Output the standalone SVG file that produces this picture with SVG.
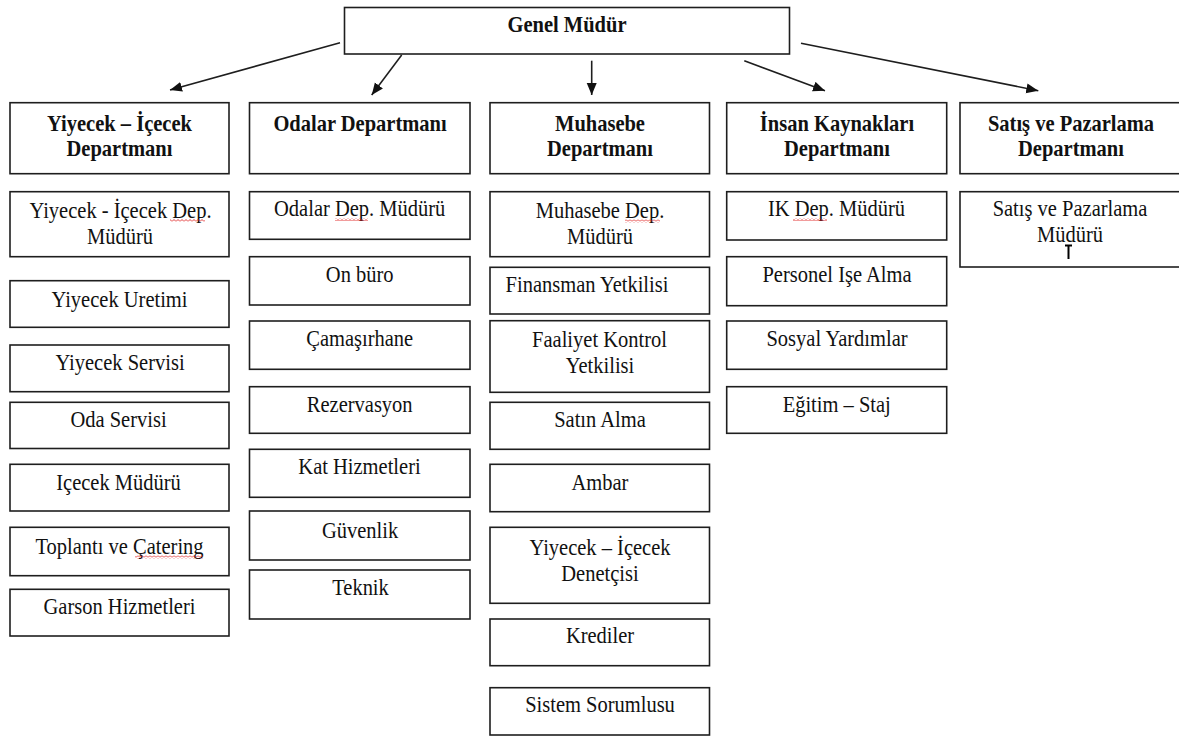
<svg xmlns="http://www.w3.org/2000/svg" width="1179" height="736" viewBox="0 0 1179 736">
  <style>
    .box { fill: #ffffff; stroke: #1e1e1e; stroke-width: 1.6; }
    .t { font-family: "Liberation Serif", "Times New Roman", serif; font-size: 20.5px; fill: #111111; text-anchor: middle; }
    .b { font-weight: bold; }
    .link { fill: none; stroke: #1e1e1e; stroke-width: 1.6; marker-end: url(#arrow); }
    .spell { fill: url(#squiggle); }
  </style>
  <defs>
    <marker id="arrow" markerUnits="userSpaceOnUse" markerWidth="13" markerHeight="11" refX="12" refY="5" orient="auto">
      <path d="M0,0 L12,5 L0,10 Z" fill="#111111"/>
    </marker>
    <pattern id="squiggle" patternUnits="userSpaceOnUse" width="4" height="3">
      <path d="M0,2.5 L2,0.5 L4,2.5" fill="none" stroke="#e02020" stroke-width="0.9"/>
    </pattern>
  </defs>
  <rect width="1179" height="736" fill="#ffffff"/>

  <!-- labels are set in a slightly tall Times face: scale(1,1.16) about each baseline -->

  <!-- top manager -->
  <g id="genel-mudur">
    <rect class="box" x="344.5" y="7.5" width="445" height="46.5"/>
    <text class="t b" transform="translate(567,32) scale(1,1.16)">Genel Müdür</text>
  </g>

  <!-- connectors from the general manager to the departments -->
  <g id="connectors">
    <line class="link" x1="340" y1="42.7" x2="170" y2="90"/>
    <line class="link" x1="401.7" y1="55" x2="371.7" y2="95"/>
    <line class="link" x1="591.7" y1="60.7" x2="591.7" y2="95"/>
    <line class="link" x1="744.3" y1="60.7" x2="825" y2="90.7"/>
    <line class="link" x1="801" y1="43.3" x2="1038.3" y2="90.7"/>
  </g>

  <!-- department headers -->
  <g id="dept-yiyecek">
    <rect class="box" x="10" y="102.7" width="219" height="71"/>
    <text class="t b" transform="translate(119.5,130.5) scale(1,1.16)">Yiyecek – İçecek</text>
    <text class="t b" transform="translate(119.5,155.5) scale(1,1.16)">Departmanı</text>
  </g>
  <g id="dept-odalar">
    <rect class="box" x="249.5" y="102.7" width="220.5" height="71"/>
    <text class="t b" transform="translate(360,130.5) scale(1,1.16)">Odalar Departmanı</text>
  </g>
  <g id="dept-muhasebe">
    <rect class="box" x="490" y="102.7" width="219.5" height="71"/>
    <text class="t b" transform="translate(600,130.5) scale(1,1.16)">Muhasebe</text>
    <text class="t b" transform="translate(600,155.5) scale(1,1.16)">Departmanı</text>
  </g>
  <g id="dept-ik">
    <rect class="box" x="726.7" y="102.7" width="220" height="71"/>
    <text class="t b" transform="translate(837,130.5) scale(1,1.16)">İnsan Kaynakları</text>
    <text class="t b" transform="translate(837,155.5) scale(1,1.16)">Departmanı</text>
  </g>
  <g id="dept-satis">
    <rect class="box" x="960" y="102.7" width="224" height="71"/>
    <text class="t b" transform="translate(1071,130.5) scale(1,1.16)">Satış ve Pazarlama</text>
    <text class="t b" transform="translate(1071,155.5) scale(1,1.16)">Departmanı</text>
  </g>

  <!-- Yiyecek – İçecek column -->
  <g id="yi-mudur">
    <rect class="box" x="10" y="191.7" width="219" height="65"/>
    <text class="t" transform="translate(120.5,217.5) scale(1,1.16)">Yiyecek - İçecek Dep.</text>
    <text class="t" transform="translate(120,243.5) scale(1,1.16)">Müdürü</text>
    <rect class="spell" x="170" y="219" width="35" height="3"/>
  </g>
  <g id="yi-uretim">
    <rect class="box" x="10" y="280.7" width="219" height="46.6"/>
    <text class="t" transform="translate(119.5,306.5) scale(1,1.16)">Yiyecek Uretimi</text>
  </g>
  <g id="yi-servis">
    <rect class="box" x="10" y="345" width="219" height="46.7"/>
    <text class="t" transform="translate(120,370) scale(1,1.16)">Yiyecek Servisi</text>
  </g>
  <g id="yi-oda">
    <rect class="box" x="10" y="402.3" width="219" height="46.2"/>
    <text class="t" transform="translate(118.5,427) scale(1,1.16)">Oda Servisi</text>
  </g>
  <g id="yi-icecek">
    <rect class="box" x="10" y="464.3" width="219" height="46.7"/>
    <text class="t" transform="translate(118.5,490) scale(1,1.16)">Içecek Müdürü</text>
  </g>
  <g id="yi-toplanti">
    <rect class="box" x="10" y="527.3" width="219" height="48.4"/>
    <text class="t" transform="translate(119.5,553.5) scale(1,1.16)">Toplantı ve Çatering</text>
    <rect class="spell" x="135" y="555.5" width="68" height="3"/>
  </g>
  <g id="yi-garson">
    <rect class="box" x="10" y="589.3" width="219" height="46.7"/>
    <text class="t" transform="translate(119.5,614) scale(1,1.16)">Garson Hizmetleri</text>
  </g>

  <!-- Odalar column -->
  <g id="od-mudur">
    <rect class="box" x="249.5" y="191.7" width="220.5" height="47.6"/>
    <text class="t" transform="translate(359.7,216) scale(1,1.16)">Odalar Dep. Müdürü</text>
    <rect class="spell" x="335" y="218" width="33" height="3"/>
  </g>
  <g id="od-onburo">
    <rect class="box" x="249.5" y="256.7" width="220.5" height="48.3"/>
    <text class="t" transform="translate(359.7,281.5) scale(1,1.16)">On büro</text>
  </g>
  <g id="od-camasir">
    <rect class="box" x="249.5" y="321" width="220.5" height="48.3"/>
    <text class="t" transform="translate(359.7,346) scale(1,1.16)">Çamaşırhane</text>
  </g>
  <g id="od-rezervasyon">
    <rect class="box" x="249.5" y="386.7" width="220.5" height="46.6"/>
    <text class="t" transform="translate(359.7,411.5) scale(1,1.16)">Rezervasyon</text>
  </g>
  <g id="od-kat">
    <rect class="box" x="249.5" y="449.3" width="220.5" height="48"/>
    <text class="t" transform="translate(359.5,474) scale(1,1.16)">Kat Hizmetleri</text>
  </g>
  <g id="od-guvenlik">
    <rect class="box" x="249.5" y="511" width="220.5" height="49"/>
    <text class="t" transform="translate(360,537.5) scale(1,1.16)">Güvenlik</text>
  </g>
  <g id="od-teknik">
    <rect class="box" x="249.5" y="570" width="220.5" height="49"/>
    <text class="t" transform="translate(360.5,595) scale(1,1.16)">Teknik</text>
  </g>

  <!-- Muhasebe column -->
  <g id="mu-mudur">
    <rect class="box" x="490" y="191.7" width="219.5" height="65"/>
    <text class="t" transform="translate(600,217.5) scale(1,1.16)">Muhasebe Dep.</text>
    <text class="t" transform="translate(600,243.5) scale(1,1.16)">Müdürü</text>
    <rect class="spell" x="625" y="219.5" width="35" height="3"/>
  </g>
  <g id="mu-finansman">
    <rect class="box" x="490" y="267.3" width="219.5" height="46.7"/>
    <text class="t" transform="translate(587,291.5) scale(1,1.16)">Finansman Yetkilisi</text>
  </g>
  <g id="mu-faaliyet">
    <rect class="box" x="490" y="320.7" width="219.5" height="71.6"/>
    <text class="t" transform="translate(599.5,346.5) scale(1,1.16)">Faaliyet Kontrol</text>
    <text class="t" transform="translate(600,372.5) scale(1,1.16)">Yetkilisi</text>
  </g>
  <g id="mu-satinalma">
    <rect class="box" x="490" y="402.3" width="219.5" height="47"/>
    <text class="t" transform="translate(600,427) scale(1,1.16)">Satın Alma</text>
  </g>
  <g id="mu-ambar">
    <rect class="box" x="490" y="464.3" width="219.5" height="47.4"/>
    <text class="t" transform="translate(600,490) scale(1,1.16)">Ambar</text>
  </g>
  <g id="mu-denetci">
    <rect class="box" x="490" y="527.3" width="219.5" height="76"/>
    <text class="t" transform="translate(600,555) scale(1,1.16)">Yiyecek – İçecek</text>
    <text class="t" transform="translate(600,580.5) scale(1,1.16)">Denetçisi</text>
  </g>
  <g id="mu-krediler">
    <rect class="box" x="490" y="619" width="219.5" height="46.7"/>
    <text class="t" transform="translate(600,642.5) scale(1,1.16)">Krediler</text>
  </g>
  <g id="mu-sistem">
    <rect class="box" x="490" y="687.7" width="219.5" height="47.3"/>
    <text class="t" transform="translate(600,711.5) scale(1,1.16)">Sistem Sorumlusu</text>
  </g>

  <!-- İnsan Kaynakları column -->
  <g id="ik-mudur">
    <rect class="box" x="726.7" y="191.7" width="220" height="48.3"/>
    <text class="t" transform="translate(836.5,216) scale(1,1.16)">IK Dep. Müdürü</text>
    <rect class="spell" x="793" y="218" width="34" height="3"/>
  </g>
  <g id="ik-personel">
    <rect class="box" x="726.7" y="256.7" width="220" height="49"/>
    <text class="t" transform="translate(837,281.5) scale(1,1.16)">Personel Işe Alma</text>
  </g>
  <g id="ik-sosyal">
    <rect class="box" x="726.7" y="321" width="220" height="48.3"/>
    <text class="t" transform="translate(837,346) scale(1,1.16)">Sosyal Yardımlar</text>
  </g>
  <g id="ik-egitim">
    <rect class="box" x="726.7" y="386.7" width="220" height="46.6"/>
    <text class="t" transform="translate(836.7,411.5) scale(1,1.16)">Eğitim – Staj</text>
  </g>

  <!-- Satış ve Pazarlama column -->
  <g id="sp-mudur">
    <rect class="box" x="960" y="191.7" width="224" height="75.3"/>
    <text class="t" transform="translate(1070,216) scale(1,1.16)">Satış ve Pazarlama</text>
    <text class="t" transform="translate(1070,241.5) scale(1,1.16)">Müdürü</text>
  </g>

  <!-- text cursor -->
  <path d="M1065,245.5 H1072 M1068.5,245.5 V259" fill="none" stroke="#000000" stroke-width="2"/>
</svg>
